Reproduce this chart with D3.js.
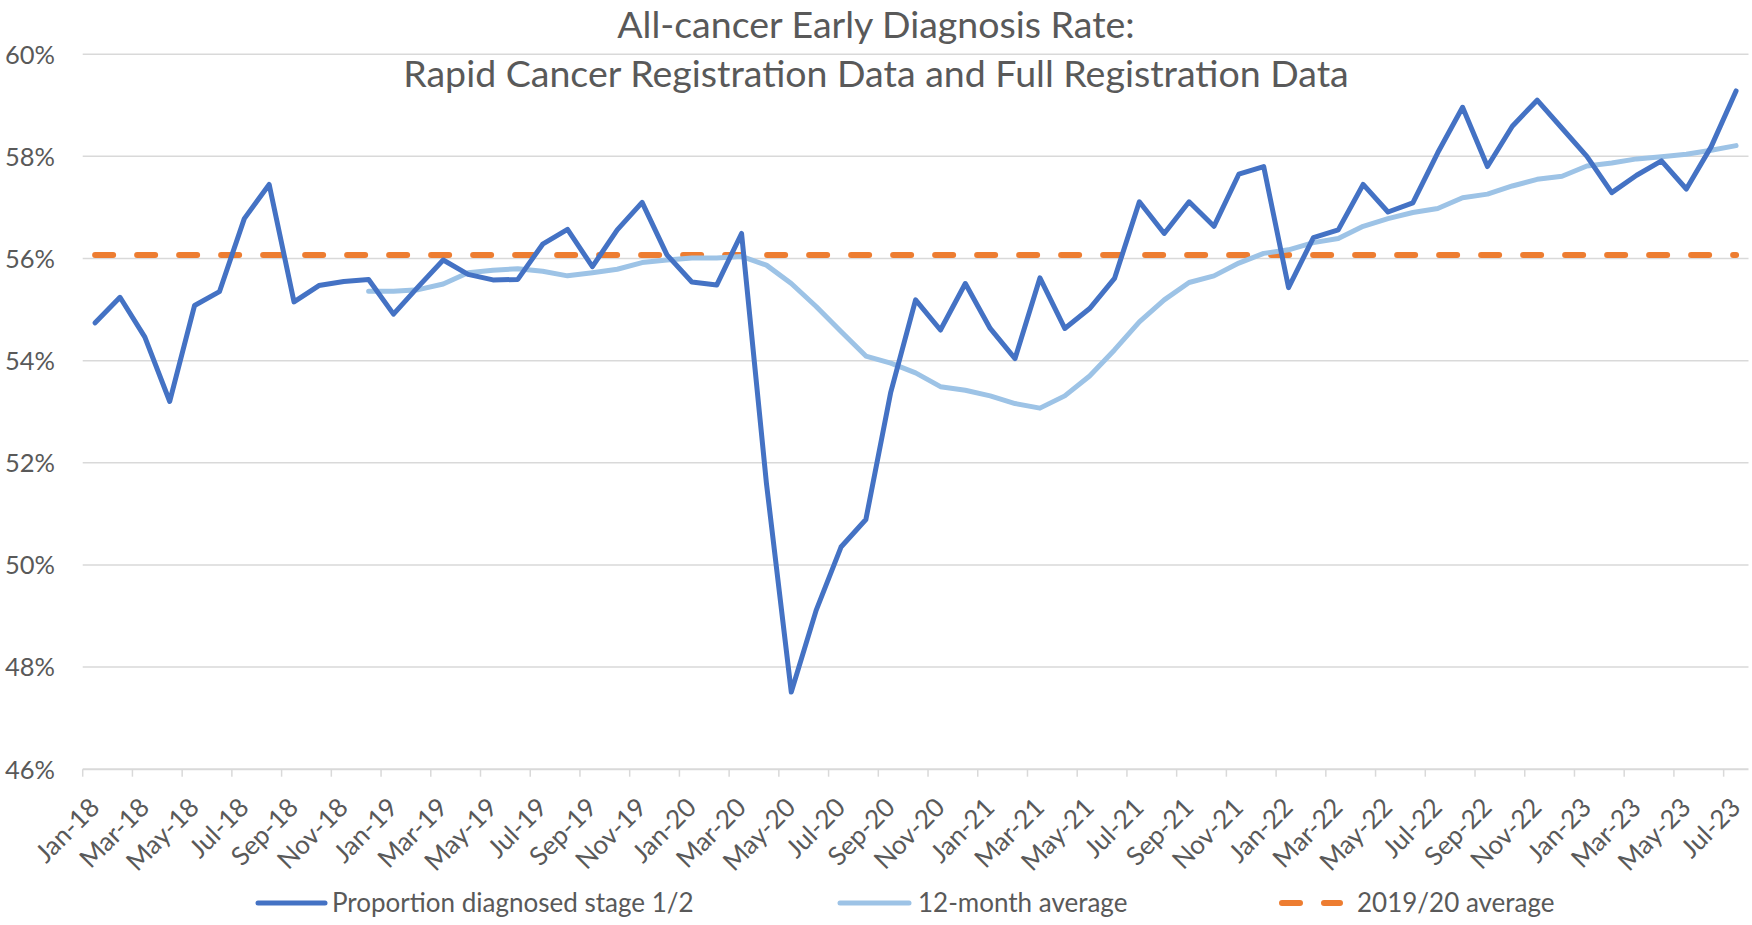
<!DOCTYPE html>
<html>
<head>
<meta charset="utf-8">
<script src="https://cdn.jsdelivr.net/npm/d3@7"></script>
<style>
  html, body { margin: 0; padding: 0; background: #ffffff; }
  svg { display: block; }
  text { font-family: Lato, "Open Sans", sans-serif; fill: #595959; }
</style>
</head>
<body>
<svg id="chart" width="1752" height="925"></svg>
<script>
// ---- Data ----
const months = [
  "Jan-18","Feb-18","Mar-18","Apr-18","May-18","Jun-18","Jul-18","Aug-18","Sep-18","Oct-18","Nov-18","Dec-18",
  "Jan-19","Feb-19","Mar-19","Apr-19","May-19","Jun-19","Jul-19","Aug-19","Sep-19","Oct-19","Nov-19","Dec-19",
  "Jan-20","Feb-20","Mar-20","Apr-20","May-20","Jun-20","Jul-20","Aug-20","Sep-20","Oct-20","Nov-20","Dec-20",
  "Jan-21","Feb-21","Mar-21","Apr-21","May-21","Jun-21","Jul-21","Aug-21","Sep-21","Oct-21","Nov-21","Dec-21",
  "Jan-22","Feb-22","Mar-22","Apr-22","May-22","Jun-22","Jul-22","Aug-22","Sep-22","Oct-22","Nov-22","Dec-22",
  "Jan-23","Feb-23","Mar-23","Apr-23","May-23","Jun-23","Jul-23"
];

// Proportion diagnosed stage 1/2 (%)
const stage12 = [
  54.74, 55.24, 54.46, 53.20, 55.08, 55.35, 56.78, 57.45, 55.15, 55.47, 55.55, 55.59,
  54.91, 55.45, 55.97, 55.69, 55.58, 55.59, 56.28, 56.57, 55.84, 56.56, 57.10, 56.07,
  55.54, 55.48, 56.49, 51.60, 47.51, 49.11, 50.35, 50.89, 53.38, 55.19, 54.60, 55.51,
  54.63, 54.04, 55.62, 54.63, 55.02, 55.61, 57.11, 56.49, 57.11, 56.63, 57.65, 57.80,
  55.43, 56.41, 56.56, 57.45, 56.91, 57.09, 58.07, 58.96, 57.80, 58.59, 59.10, 58.55,
  58.00, 57.29, 57.63, 57.91, 57.36, 58.19, 59.28
];

// 12-month average (%), starts Dec-18
const avg12 = [
  null, null, null, null, null, null, null, null, null, null, null, 55.36,
  55.36, 55.39, 55.50, 55.72, 55.77, 55.80, 55.75, 55.66, 55.72, 55.79, 55.92, 55.97,
  56.01, 56.01, 56.04, 55.87, 55.51, 55.06, 54.57, 54.09, 53.95, 53.76, 53.49, 53.42,
  53.31, 53.16, 53.07, 53.31, 53.70, 54.21, 54.76, 55.19, 55.53, 55.66, 55.91, 56.10,
  56.17, 56.31, 56.39, 56.63, 56.78, 56.90, 56.98, 57.19, 57.26, 57.42, 57.55, 57.61,
  57.81, 57.87, 57.95, 57.99, 58.04, 58.12, 58.21
];

// 2019/20 average (%)
const avg1920 = [56.07];

const yTicks = [46, 48, 50, 52, 54, 56, 58, 60];
const titleLines = ["All-cancer Early Diagnosis Rate:", "Rapid Cancer Registration Data and Full Registration Data"];
const seriesNames = ["Proportion diagnosed stage 1/2", "12-month average", "2019/20 average"];
const colors = { main: "#4472C4", avg: "#9DC3E6", base: "#ED7D31", grid: "#D9D9D9" };

// ---- Layout ----
const W = 1752, H = 925;
const plot = { left: 82.7, right: 1748.5, top: 54.2, bottom: 769.2 };

const svg = d3.select("#chart");
svg.append("rect").attr("width", W).attr("height", H).attr("fill", "#fff");

const x = d3.scaleBand().domain(months).range([plot.left, plot.right]).padding(0);
const cx = m => x(m) + x.bandwidth() / 2;
const y = d3.scaleLinear().domain([46, 60]).range([plot.bottom, plot.top]);

// Gridlines
svg.append("g").selectAll("line").data(yTicks.filter(v => v !== 46)).join("line")
  .attr("x1", plot.left).attr("x2", plot.right)
  .attr("y1", d => y(d)).attr("y2", d => y(d))
  .attr("stroke", colors.grid).attr("stroke-width", 1.5);

// Y axis labels
const yAxis = d3.axisLeft(y).tickValues(yTicks).tickFormat(d => d + "%").tickSize(0).tickPadding(0);
const gy = svg.append("g").attr("transform", `translate(55,0)`).call(yAxis);
gy.select(".domain").remove();
gy.selectAll("text").attr("font-size", 25.5).attr("fill", "#595959")
  .style("font-family", "Lato, 'Open Sans', sans-serif").attr("dy", "0.35em").attr("x", 0);

// X axis line and ticks
svg.append("line").attr("x1", plot.left).attr("x2", plot.right)
  .attr("y1", y(46)).attr("y2", y(46)).attr("stroke", colors.grid).attr("stroke-width", 2);
const tickMonths = months.filter((m, i) => i % 2 === 0);
svg.append("g").selectAll("line").data(tickMonths).join("line")
  .attr("x1", d => x(d)).attr("x2", d => x(d))
  .attr("y1", y(46)).attr("y2", y(46) + 7.5)
  .attr("stroke", colors.grid).attr("stroke-width", 1.5);

// X labels (rotated)
svg.append("g").selectAll("text").data(tickMonths).join("text")
  .attr("transform", d => `translate(${cx(d) + 6},${y(46) + 40}) rotate(-45)`)
  .attr("text-anchor", "end")
  .attr("font-size", 26)
  .text(d => d);

// Lines
const lineGen = d3.line()
  .defined(d => d.v !== null)
  .x(d => cx(d.m)).y(d => y(d.v));

svg.append("path")
  .datum(months.map((m, i) => ({ m, v: avg1920[0] })))
  .attr("d", lineGen).attr("fill", "none")
  .attr("stroke", colors.base).attr("stroke-width", 6)
  .attr("stroke-dasharray", "18,24").attr("stroke-linecap", "round");

svg.append("path")
  .datum(months.map((m, i) => ({ m, v: avg12[i] })))
  .attr("d", lineGen).attr("fill", "none")
  .attr("stroke", colors.avg).attr("stroke-width", 5)
  .attr("stroke-linejoin", "round").attr("stroke-linecap", "round");

svg.append("path")
  .datum(months.map((m, i) => ({ m, v: stage12[i] })))
  .attr("d", lineGen).attr("fill", "none")
  .attr("stroke", colors.main).attr("stroke-width", 5)
  .attr("stroke-linejoin", "round").attr("stroke-linecap", "round");

// Title
svg.append("g").selectAll("text").data(titleLines).join("text")
  .attr("x", W / 2).attr("y", (d, i) => i === 0 ? 37.5 : 87)
  .attr("text-anchor", "middle").attr("font-size", 37.5)
  .text(d => d);

// Legend
const legendY = 903;
const legendItems = [
  { name: seriesNames[0], color: colors.main, x1: 258, x2: 325, tx: 332, dash: null, w: 5 },
  { name: seriesNames[1], color: colors.avg, x1: 840, x2: 909, tx: 918, dash: null, w: 5 },
  { name: seriesNames[2], color: colors.base, x1: 1282, x2: 1340, tx: 1357, dash: "18,24", w: 6 }
];
const lg = svg.append("g").selectAll("g").data(legendItems).join("g");
lg.append("line")
  .attr("x1", d => d.x1).attr("x2", d => d.x2)
  .attr("y1", legendY).attr("y2", legendY)
  .attr("stroke", d => d.color).attr("stroke-width", d => d.w)
  .attr("stroke-linecap", "round")
  .attr("stroke-dasharray", d => d.dash);
lg.append("text")
  .attr("x", d => d.tx).attr("y", legendY).attr("dy", "0.35em")
  .attr("font-size", 26)
  .text(d => d.name);
</script>
</body>
</html>
